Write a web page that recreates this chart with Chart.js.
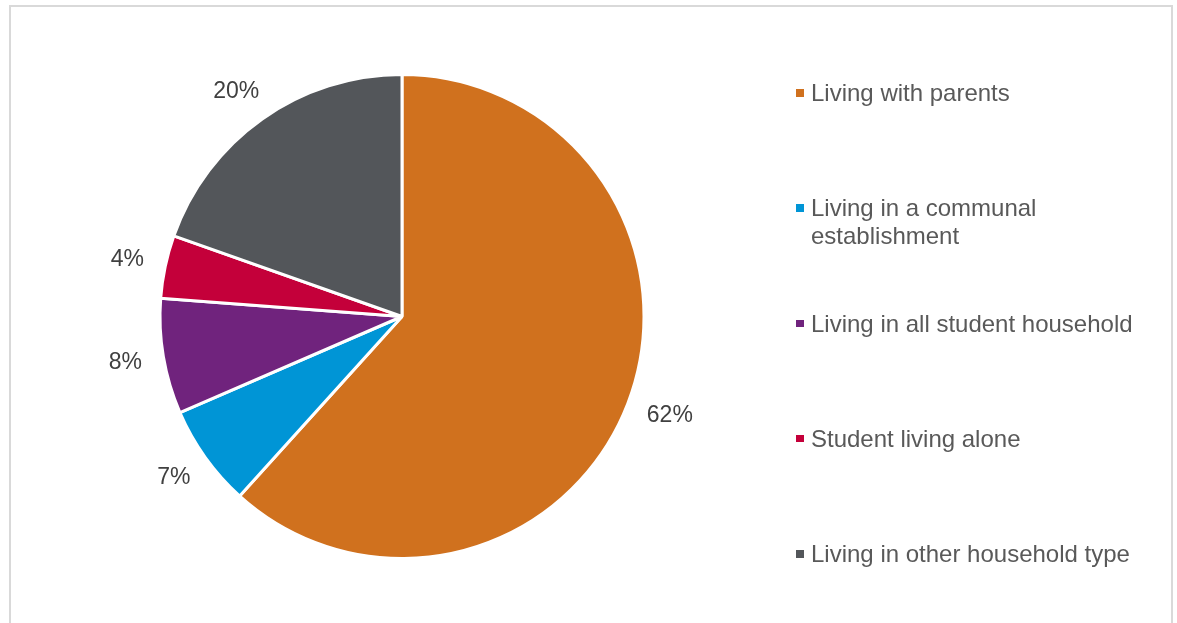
<!DOCTYPE html>
<html>
<head>
<meta charset="utf-8">
<script src="https://cdn.jsdelivr.net/npm/chart.js@4.4.1/dist/chart.umd.min.js"></script>
<style>
  html, body { margin: 0; padding: 0; background: #fff; overflow: hidden; }
  body { width: 1177px; height: 623px; position: relative; font-family: "Liberation Sans", Arial, sans-serif; }
  #frame { position: absolute; left: 9px; top: 5px; width: 1164px; height: 640px; border: 2px solid #d9d9d9; box-sizing: border-box; }
  #wrap { position: absolute; left: 0; top: 0; width: 1177px; height: 623px; }
  #legend { position: absolute; left: 0; top: 0; }
  .item { position: absolute; left: 811px; width: 340px; font-size: 24px; line-height: 27.5px; color: #595959; white-space: nowrap; }
  .mark { position: absolute; left: -15px; top: 10px; width: 7.5px; height: 7.5px; }
</style>
</head>
<body>
<div id="frame"></div>
<div id="wrap"><canvas id="c" width="1177" height="623"></canvas></div>
<div id="legend"></div>
<script>
const categories = ["Living with parents", "Living in a communal establishment", "Living in all student household", "Student living alone", "Living in other household type"];
const legendLines = [["Living with parents"], ["Living in a communal", "establishment"], ["Living in all student household"], ["Student living alone"], ["Living in other household type"]];
const values = [61.7, 6.8, 7.7, 4.2, 19.6];
const valueLabels = ["62%", "7%", "8%", "4%", "20%"];
const colors = ["#D0711E", "#0095D6", "#70237D", "#C4003A", "#53565A"];

const labelPlugin = {
  id: 'outLabels',
  afterDatasetsDraw(chart) {
    const ctx = chart.ctx;
    const meta = chart.getDatasetMeta(0);
    ctx.save();
    ctx.font = '23px "Liberation Sans", Arial, sans-serif';
    ctx.fillStyle = '#404040';
    ctx.textAlign = 'center';
    ctx.textBaseline = 'middle';
    meta.data.forEach((arc, i) => {
      const p = arc.getProps(['x', 'y', 'startAngle', 'endAngle', 'outerRadius'], true);
      const mid = (p.startAngle + p.endAngle) / 2;
      const r = p.outerRadius + 22;
      const w = ctx.measureText(valueLabels[i]).width;
      const hw = w / 2, hh = 12;
      const cx = p.x + Math.cos(mid) * r + Math.cos(mid) * hw;
      const cy = p.y + Math.sin(mid) * r + Math.sin(mid) * hh;
      ctx.fillText(valueLabels[i], cx, cy);
    });
    ctx.restore();
  }
};

new Chart(document.getElementById('c'), {
  type: 'pie',
  data: {
    labels: categories,
    datasets: [{
      data: values,
      backgroundColor: colors,
      borderColor: '#ffffff',
      borderWidth: 3,
      hoverOffset: 0
    }]
  },
  options: {
    responsive: false,
    animation: false,
    events: [],
    radius: 242,
    layout: { padding: { left: 0, right: 373, top: 10, bottom: 0 } },
    plugins: { legend: { display: false }, tooltip: { enabled: false }, title: { display: false } }
  },
  plugins: [labelPlugin]
});

const legend = document.getElementById('legend');
legendLines.forEach((lines, i) => {
  const d = document.createElement('div');
  d.className = 'item';
  d.style.top = (79 + i * 115.3) + 'px';
  const m = document.createElement('div');
  m.className = 'mark';
  m.style.background = colors[i];
  d.appendChild(m);
  d.innerHTML += lines.join('<br>');
  legend.appendChild(d);
});
</script>
</body>
</html>
